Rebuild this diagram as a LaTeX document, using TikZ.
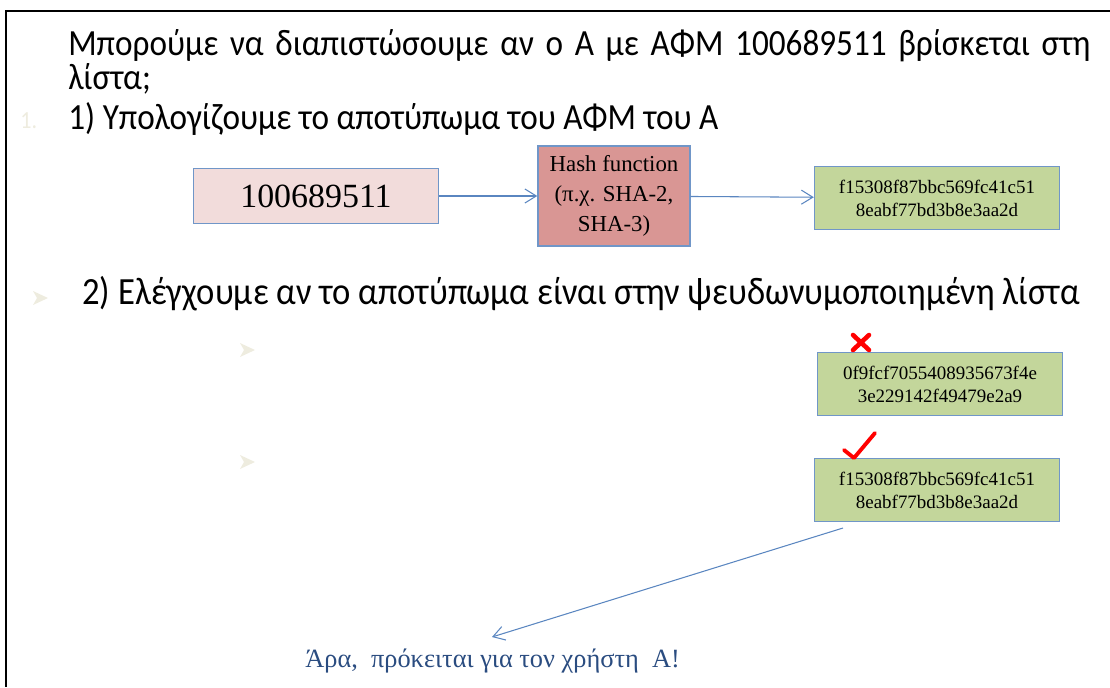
\documentclass[tikz,border=0pt]{standalone}
\usepackage{fontspec}
\setmainfont{Liberation Serif}
\newfontfamily\slidefont[FakeStretch=0.9]{Carlito}
\usetikzlibrary{arrows.meta}

\definecolor{frameline}{HTML}{000000}
\definecolor{boxline}{HTML}{7096C8}
\definecolor{linkblue}{HTML}{5A86C0}
\definecolor{pinkfill}{HTML}{F2DCDB}
\definecolor{hashfill}{HTML}{D99694}
\definecolor{greenfill}{HTML}{C3D69B}
\definecolor{palemark}{HTML}{EEECDF}
\definecolor{answer}{HTML}{2A4C80}
\newdimen\px \px=0.02cm

\begin{document}
\begin{tikzpicture}[x=0.02cm,y=-0.02cm,
	every node/.style={inner sep=0pt},
	slide/.style={anchor=base west,font=\slidefont\fontsize{21}{17}\selectfont},
	box/.style={draw=boxline,line width=0.8pt,align=center},
	digest/.style={box,fill=greenfill,minimum width=245\px,minimum height=63\px,
		font=\fontsize{10.8}{13}\selectfont},
	link/.style={draw=linkblue,line width=0.6pt,-{Straight Barb[length=6.5pt,width=8pt]}},
	wrong/.style={draw=red,line width=2.6pt,line cap=round}]
	\useasboundingbox (0,0) rectangle (1110,687);
	\draw[frameline,line width=1.2pt] (1110,11) -- (6,11) -- (6,687);

	% text of the slide
	\node[slide,text width=1022\px,align=justify]
					(title)		at (68,55)	{Μπορούμε να διαπιστώσουμε αν ο Α με ΑΦΜ 100689511 βρίσκεται στη\linebreak λίστα;};
	\node[slide,text=palemark,font=\slidefont\fontsize{14}{16}\selectfont]
					(num1)		at (20,128)	{1.};
	\node[slide]	(step1)		at (68,129)	{1) Υπολογίζουμε το αποτύπωμα του ΑΦΜ του Α};
	\node[slide,font=\slidefont\fontsize{21.9}{24}\selectfont]
					(step2)		at (82,304)	{2) Ελέγχουμε αν το αποτύπωμα είναι στην ψευδωνυμοποιημένη λίστα};

	% pale bullets
	\foreach \bx/\by in {40/298,247/350,247/462}
		\fill[palemark] (\bx-7,\by-7) -- (\bx+8,\by) -- (\bx-7,\by+7) -- (\bx-3,\by) -- cycle;

	% boxes
	\node[box,fill=pinkfill,minimum width=245\px,minimum height=55\px,
		font=\fontsize{19.3}{22}\selectfont]
					(afm)		at (316,196)	{100689511};
	\node[box,fill=hashfill,minimum width=152\px,minimum height=100\px,
		font=\fontsize{13}{17}\selectfont]
					(hash)		at (614,196)	{Hash function\\(π.χ. SHA-2,\\SHA-3)};
	\node[digest]	(d1)		at (937,198)	{f15308f87bbc569fc41c51\\8eabf77bd3b8e3aa2d};
	\node[digest]	(d2)		at (940,384)	{0f9fcf7055408935673f4e\\3e229142f49479e2a9};
	\node[digest]	(d3)		at (937,490)	{f15308f87bbc569fc41c51\\8eabf77bd3b8e3aa2d};

	\node[anchor=base west,text=answer,font=\fontsize{15}{18}\selectfont]
					(result)	at (305,667)	{Άρα,\ \ πρόκειται για τον χρήστη\ \ Α!};

	% marks
	\draw[wrong] (853,335) -- (869,350) (869,335) -- (853,350);
	\draw[wrong,line width=2.2pt,line join=round] (844,450) -- (854,458) -- (875,433);

	% arrows
	\coordinate (tail) at (843,528);
	\coordinate (head) at (492,637);
	\draw[link] (afm) -- (hash);
	\draw[link] (hash) -- (d1);
	\draw[link] (tail) -- (head);
\end{tikzpicture}
\end{document}
